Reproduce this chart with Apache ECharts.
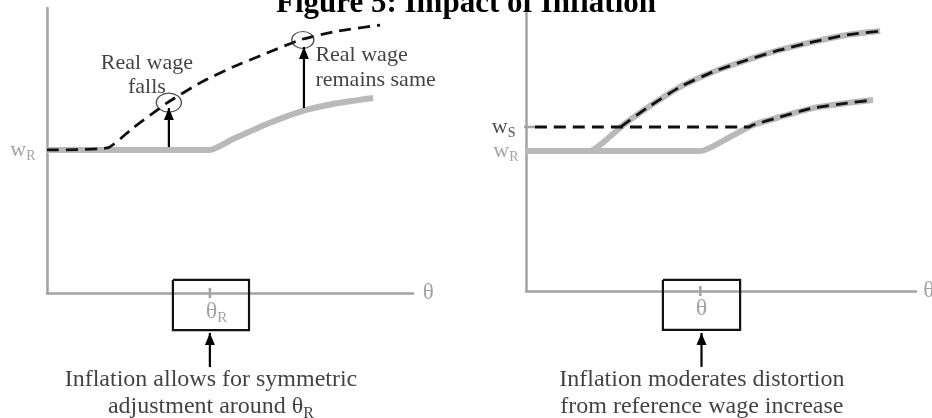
<!DOCTYPE html>
<html><head><meta charset="utf-8">
<script src="https://cdn.jsdelivr.net/npm/echarts@6/dist/echarts.min.js"></script>
<style>html,body{margin:0;padding:0;background:#fff}#c{width:932px;height:418px}</style>
</head><body><div id="c"></div>
<script>
const SERIF = 'Liberation Serif';
const titleText = 'Figure 5: Impact of Inflation';

// ---- Left panel (θ on x, wage on y; conceptual 0–10 units) ----
const leftReferenceWage = [[0,5.02],[4.45,5.02],[5.08,5.40],[6.01,5.93],[6.99,6.39],[7.81,6.63],[8.91,6.84]];
const leftNominalWage = [[0,5.02],[1.64,5.09],[2.35,5.79],[3.28,6.67],[4.18,7.37],[5.08,7.93],[6.01,8.42],[6.91,8.88],[7.81,9.16],[9.10,9.40]];
const leftCircles = [[3.33,6.68],[6.99,8.88]];
const leftArrows = [[[3.33,5.12],[3.33,6.49]],[[7.02,6.49],[7.02,8.63]],[[4.45,-2.60],[4.45,-1.40]]];
const leftBox = [[3.44,0.46],[5.52,-1.30]];
const leftTick = [[4.45,0.18],[4.45,-0.18]];
const leftTexts = {
  falls: {at:[2.73,7.65], text:'Real wage\nfalls'},
  same: {at:[7.32,7.91], text:'Real wage\nremains same'},
  theta: {at:[10.42,0], text:'θ'},
  wR: {at:[0,5.02], text:'{w|w}{s|R}'},
  thetaR: {at:[4.63,-0.67], text:'{t|θ}{s|R}'},
  note: {at:[4.48,-3.53], text:'Inflation allows for symmetric\nadjustment around θ{b|R}'}
};

// ---- Right panel ----
const rightLowerWage = [[0,5.04],[4.49,5.04],[5.23,5.54],[5.82,5.97],[6.51,6.26],[7.36,6.58],[8.23,6.76],[8.90,6.87]];
const rightUpperWage = [[0,5.04],[1.62,5.04],[2.49,5.97],[3.10,6.58],[3.95,7.34],[4.79,7.88],[5.67,8.31],[6.51,8.67],[7.36,8.96],[8.23,9.21],[9.08,9.35]];
const rightLowerDashed = [[0.23,5.90],[5.72,5.90],[5.82,5.97],[6.51,6.26],[7.36,6.58],[8.23,6.76],[8.90,6.87]];
const rightUpperDashed = [[2.43,5.90],[2.49,5.97],[3.10,6.58],[3.95,7.34],[4.79,7.88],[5.67,8.31],[6.51,8.67],[7.36,8.96],[8.23,9.21],[9.08,9.35]];
const rightWsTick = [[-0.10,5.90],[0.23,5.90]];
const rightArrow = [[4.50,-2.73],[4.50,-1.51]];
const rightBox = [[3.51,0.40],[5.49,-1.40]];
const rightTick = [[4.47,0.18],[4.47,-0.18]];
const rightTexts = {
  theta: {at:[10.33,0], text:'θ'},
  wS: {at:[0,5.90], text:'{w|w}{s|S}'},
  wR: {at:[0,5.04], text:'{w|w}{s|R}'},
  thetaBar: {at:[4.50,-0.63], text:'θ'},
  note: {at:[4.51,-3.69], text:'Inflation moderates distortion\nfrom reference wage increase'}
};

const GRAY_AXIS = '#a2a2a2';
const GRAY_CURVE = '#b9b9b9';
const GRAY_TEXT = '#8c8c8c';

function axisPair(gi) {
  const common = {type:'value', min:0, max:10, gridIndex:gi,
    axisLine:{show:true, lineStyle:{color:GRAY_AXIS, width:2.5}},
    axisTick:{show:false}, axisLabel:{show:false}, splitLine:{show:false}};
  return [Object.assign({}, common), Object.assign({}, common)];
}
function base(gi, data, z) {
  return {type:'line', xAxisIndex:gi, yAxisIndex:gi, data:data, symbol:'none', clip:false,
    silent:true, animation:false, z:z};
}
function curve(gi, data, kind) {
  const s = base(gi, data, kind === 'gray' ? 2 : 3);
  s.smooth = 0.18;
  s.lineStyle = kind === 'gray' ? {color:GRAY_CURVE, width:6, cap:'butt', join:'round'}
                                : {color:'#111', width:2.8, type:[12,7]};
  return s;
}
function arrow(gi, seg) {
  const s = base(gi, seg, 6);
  s.symbol = (v, p) => p.dataIndex === 1 ? 'triangle' : 'none';
  s.symbolSize = [10, 12];
  s.symbolOffset = [0, '50%'];
  s.showSymbol = true; s.showAllSymbol = true;
  s.itemStyle = {color:'#000', borderWidth:0};
  s.lineStyle = {color:'#000', width:2.2};
  return s;
}
function tick(gi, seg) {
  const s = base(gi, seg, 4);
  s.lineStyle = {color:GRAY_AXIS, width:2.5};
  return s;
}
function box(gi, b) {
  const [p, q] = b;
  const s = base(gi, [[p[0],p[1]],[q[0],p[1]],[q[0],q[1]],[p[0],q[1]],[p[0],p[1]]], 5);
  s.lineStyle = {color:'#111', width:2.2, join:'miter'};
  return s;
}
function txt(gi, item, label) {
  return {type:'scatter', xAxisIndex:gi, yAxisIndex:gi, data:[item.at], symbolSize:1, silent:true, clip:false,
    animation:false, z:10, itemStyle:{color:'rgba(0,0,0,0)'},
    label:Object.assign({show:true, formatter:item.text, fontFamily:SERIF, color:'#111', position:'inside'}, label)};
}
function subRich(color, big, small, drop) {
  return {w:{fontFamily:SERIF, fontSize:big, color:color},
          t:{fontFamily:SERIF, fontSize:big, color:color},
          s:{fontFamily:SERIF, fontSize:small, color:color, padding:[drop,0,0,0]},
          b:{fontFamily:SERIF, fontSize:small+1, color:color, padding:[drop+2,0,0,0]}};
}

const [lx, ly] = axisPair(0);
const [rx, ry] = axisPair(1);

const option = {
  animation:false,
  backgroundColor:'#fff',
  title:{text:titleText, left:'center', top:-12, padding:0,
    textStyle:{fontFamily:SERIF, fontWeight:'bold', fontSize:31, color:'#000'}},
  grid:[
    {left:47, top:8, width:366, height:285, outerBoundsMode:'none', containLabel:false},
    {left:526, top:13, width:390, height:278, outerBoundsMode:'none', containLabel:false}
  ],
  xAxis:[lx, rx],
  yAxis:[ly, ry],
  series:[
    curve(0, leftReferenceWage, 'gray'),
    curve(0, leftNominalWage, 'dash'),
    {type:'scatter', xAxisIndex:0, yAxisIndex:0, data:leftCircles, clip:false, silent:true, z:4, animation:false,
      symbol:'circle', symbolSize:(v, p) => p.dataIndex === 0 ? [25,19] : [22,17],
      itemStyle:{color:'rgba(0,0,0,0)', borderColor:'#222', borderWidth:1.2}},
    ...leftArrows.map(a => arrow(0, a)),
    tick(0, leftTick),
    box(0, leftBox),
    txt(0, leftTexts.falls, {fontSize:22, lineHeight:24, align:'center'}),
    txt(0, leftTexts.same, {fontSize:22, lineHeight:25, position:'right', distance:0, align:'left'}),
    txt(0, leftTexts.theta, {fontSize:23, color:GRAY_TEXT}),
    txt(0, leftTexts.wR, {position:'left', distance:11, rich:subRich(GRAY_TEXT, 22, 14, 12)}),
    txt(0, leftTexts.thetaR, {rich:subRich(GRAY_TEXT, 24, 15, 12)}),
    txt(0, leftTexts.note, {fontSize:24, lineHeight:27, align:'center', rich:subRich('#111', 24, 15, 12)}),

    curve(1, rightLowerWage, 'gray'),
    curve(1, rightUpperWage, 'gray'),
    curve(1, rightLowerDashed, 'dash'),
    curve(1, rightUpperDashed, 'dash'),
    arrow(1, rightArrow),
    tick(1, rightTick),
    tick(1, rightWsTick),
    box(1, rightBox),
    txt(1, rightTexts.theta, {fontSize:23, color:GRAY_TEXT}),
    txt(1, rightTexts.wS, {position:'left', distance:10, rich:subRich('#222', 22, 14, 12)}),
    txt(1, rightTexts.wR, {position:'left', distance:7, rich:subRich(GRAY_TEXT, 22, 14, 12)}),
    txt(1, rightTexts.thetaBar, {fontSize:24, color:GRAY_TEXT}),
    txt(1, rightTexts.note, {fontSize:24, lineHeight:27, align:'center'})
  ]
};
const chart = echarts.init(document.getElementById('c'), null, {renderer:'canvas'});
chart.setOption(option);
</script>
</body></html>
